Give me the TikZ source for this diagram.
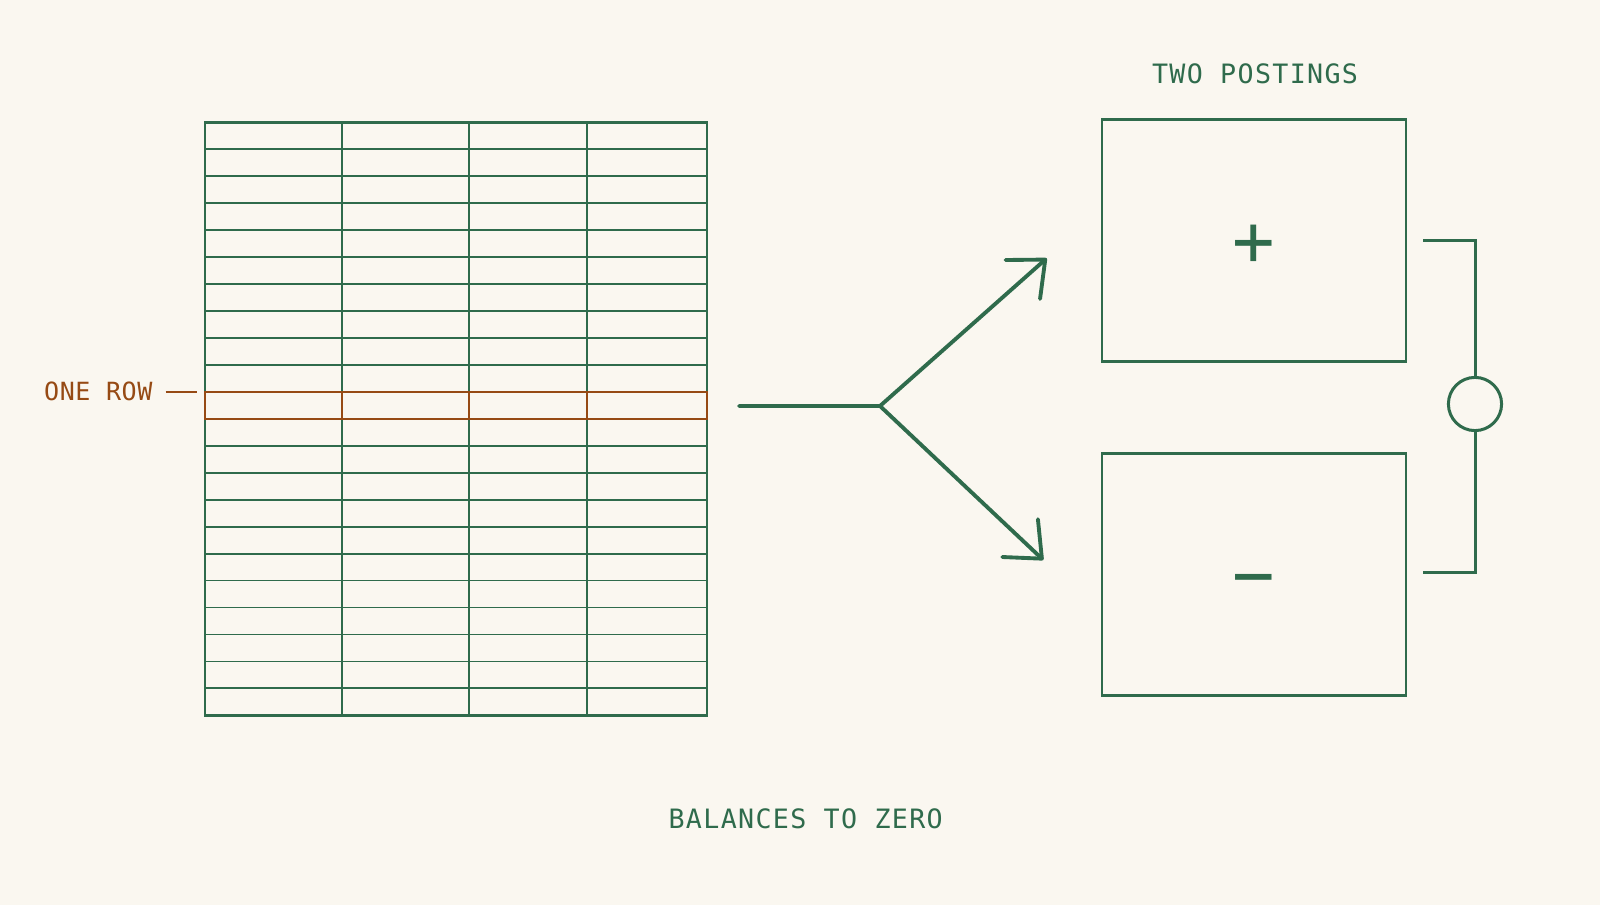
\documentclass[tikz,border=0pt]{standalone}
\usepackage{fontspec}
\setmonofont{DejaVu Sans Mono}
\newfontfamily\capsfont[LetterSpace=5]{DejaVu Sans Mono}
\newfontfamily\rowfont[LetterSpace=2]{DejaVu Sans Mono}
\usetikzlibrary{arrows.meta}

\definecolor{paper}{RGB}{250,247,240}
\definecolor{ledgergreen}{RGB}{47,107,76}
\definecolor{rowbrown}{RGB}{150,74,20}

\begin{document}
\begin{tikzpicture}[x=0.75pt,y=0.75pt,yscale=-1,xscale=1,
  gridline/.style={draw=ledgergreen, line width=1.35pt},
  rowline/.style={draw=rowbrown, line width=1.5pt},
  postbox/.style={draw=ledgergreen, line width=2pt, minimum width=227.8pt, minimum height=181.5pt, inner sep=0pt},
  branch/.style={draw=ledgergreen, line width=2.9pt, line cap=round},
  bracket/.style={draw=ledgergreen, line width=2.25pt},
  caption/.style={text=ledgergreen, inner sep=0.75pt, font=\capsfont\fontsize{20pt}{24pt}\selectfont},
  sign/.style={text=ledgergreen, inner sep=0pt, font=\ttfamily\fontsize{53pt}{53pt}\selectfont}]
%set diagram size 1600 x 905
\fill[paper] (0,0) rectangle (1600,905);

%Ledger rows
\foreach \r in {1,...,21}
  \draw[gridline] (205,{122.4+26.95*\r}) -- (707,{122.4+26.95*\r});
%Ledger columns
\foreach \c in {342,469,587}
  \draw[gridline] (\c,122.4) -- (\c,715.3);
%Ledger border
\draw[gridline, line width=2pt] (205,122.4) rectangle (707,715.3);
%Highlighted row
\draw[rowline] (205,391.9) rectangle (707,418.9);
\foreach \c in {342,469,587}
  \draw[rowline] (\c,391.9) -- (\c,418.9);

% Text Node
\node[text=rowbrown, inner sep=0.75pt, font=\rowfont\fontsize{18.8pt}{22pt}\selectfont] (onerow) at (98.3,391) {ONE ROW};
\coordinate (rowedge) at (196.7,392);
\draw[draw=rowbrown, line width=1.5pt] ([xshift=9pt]onerow.east |- rowedge) -- (rowedge);

%Fork
\coordinate (stem) at (739,406);
\coordinate (fork) at (880,406);
\coordinate (uptip) at (1046.7,258.3);
\coordinate (downtip) at (1043.3,560);
\draw[branch, -{Straight Barb[length=22.5pt, width=39pt, round]}] (stem) -- (fork) -- (uptip);
\draw[branch, -{Straight Barb[length=22.5pt, width=39pt, round]}] (fork) -- (downtip);

%Postings
\node[postbox] (plusbox) at (1254,240.3) {};
\node[postbox] (minusbox) at (1254,574.4) {};
\node[sign] (plussign) at ([shift={(0,5.5)}]plusbox.center) {+};
\node[sign] (minussign) at ([shift={(0,12.5)}]minusbox.center) {−};

% Text Node
\node[caption] (postings) at (1255,74) {TWO POSTINGS};
% Text Node
\node[caption] (balance) at (805.7,818.5) {BALANCES TO ZERO};

%Zero bracket
\node[bracket, circle, minimum size=39.9pt, inner sep=0pt] (zero) at (1475,404) {};
\coordinate (plusarm) at (1423.3,241);
\coordinate (minusarm) at (1423.3,572.3);
\draw[bracket] (plusarm) -- (plusarm -| zero) -- (zero.north);
\draw[bracket] (minusarm) -- (minusarm -| zero) -- (zero.south);

\end{tikzpicture}
\end{document}
